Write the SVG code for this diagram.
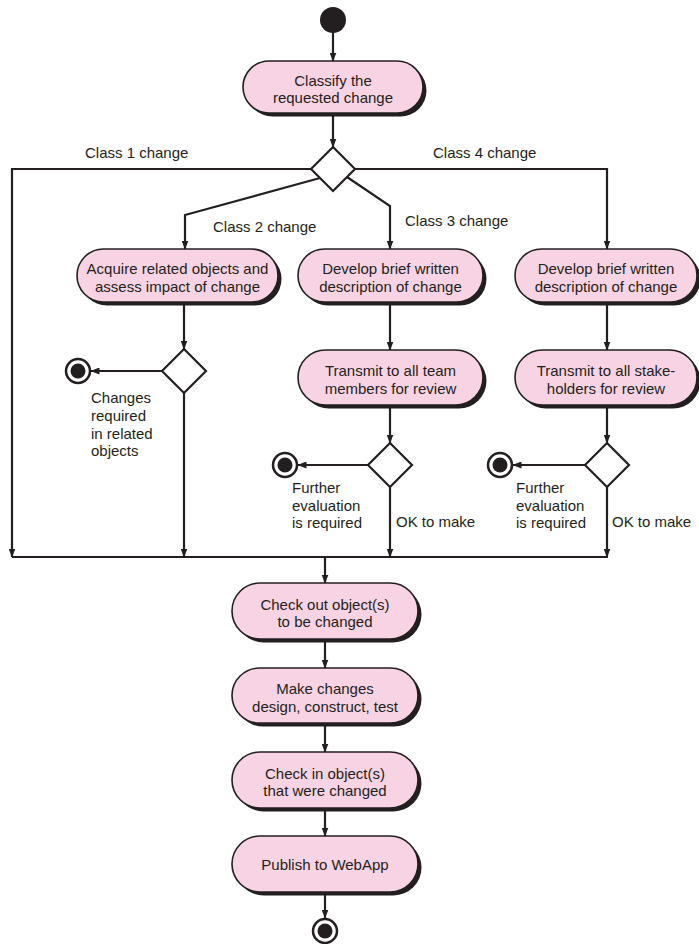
<svg xmlns="http://www.w3.org/2000/svg" width="699" height="944" viewBox="0 0 699 944">
<style>
.bg{fill:#ffffff}
.node{fill:#f8d3e4;stroke:#231f20;stroke-width:1.6}
.shadow{fill:#231f20}
.lbl{font-family:"Liberation Sans",Arial,sans-serif;font-size:15px;fill:#231f20}
.nt{font-family:"Liberation Sans",Arial,sans-serif;font-size:15px;fill:#231f20;text-anchor:middle}
.ln{fill:none;stroke:#231f20;stroke-width:2.2}
.dia{fill:#ffffff;stroke:#231f20;stroke-width:2.2}
.ring{fill:#ffffff;stroke:#231f20;stroke-width:2.5}
.dot{fill:#231f20}
</style>
<defs>
<marker id="arr" markerUnits="userSpaceOnUse" markerWidth="9" markerHeight="7" refX="8.5" refY="3.5" orient="auto">
<path d="M0,0 L9,3.5 L0,7 z" fill="#231f20"/>
</marker>
</defs>
<rect class="bg" x="0" y="0" width="699" height="944"/>

<g id="connectors">
<path class="ln" d="M333,33 L333,61" marker-end="url(#arr)"/>
<path class="ln" d="M333,113 L333,147" marker-end="url(#arr)"/>
<path class="ln" d="M311,169 L12,169 L12,557" marker-end="url(#arr)"/>
<path class="ln" d="M355,169 L607,169 L607,249" marker-end="url(#arr)"/>
<path class="ln" d="M320,178 L185,215 L185,249" marker-end="url(#arr)"/>
<path class="ln" d="M347,177 L390,206 L390,249" marker-end="url(#arr)"/>
<path class="ln" d="M184,302 L184,349" marker-end="url(#arr)"/>
<path class="ln" d="M162,371 L91,371" marker-end="url(#arr)"/>
<path class="ln" d="M184,393 L184,557" marker-end="url(#arr)"/>
<path class="ln" d="M390,302 L390,350" marker-end="url(#arr)"/>
<path class="ln" d="M390,405 L390,443" marker-end="url(#arr)"/>
<path class="ln" d="M368,465 L298,465" marker-end="url(#arr)"/>
<path class="ln" d="M390,487 L390,557" marker-end="url(#arr)"/>
<path class="ln" d="M607,302 L607,350" marker-end="url(#arr)"/>
<path class="ln" d="M607,405 L607,443" marker-end="url(#arr)"/>
<path class="ln" d="M585,465 L513,465" marker-end="url(#arr)"/>
<path class="ln" d="M607,487 L607,557" marker-end="url(#arr)"/>
<path class="ln" d="M12,557 L608,557"/>
<path class="ln" d="M325,557 L325,583" marker-end="url(#arr)"/>
<path class="ln" d="M325,639 L325,668" marker-end="url(#arr)"/>
<path class="ln" d="M325,723 L325,752" marker-end="url(#arr)"/>
<path class="ln" d="M325,808 L325,836" marker-end="url(#arr)"/>
<path class="ln" d="M325,892 L325,918" marker-end="url(#arr)"/>
<text class="lbl" x="85" y="158">Class 1 change</text>
<text class="lbl" x="433" y="158">Class 4 change</text>
<text class="lbl" x="213" y="232">Class 2 change</text>
<text class="lbl" x="405" y="226">Class 3 change</text>
<text class="lbl" x="396" y="527">OK to make</text>
<text class="lbl" x="612" y="527">OK to make</text>
</g>

<g id="start"><circle class="dot" cx="333" cy="20" r="13"/></g>

<g id="classify">
<rect class="shadow" x="246.5" y="64.5" width="180" height="52" rx="26"/>
<rect class="node" x="243" y="61" width="180" height="52" rx="26"/>
<text class="nt" x="333" y="85.5">Classify the</text>
<text class="nt" x="333" y="103">requested change</text>
</g>

<g id="decision1"><polygon class="dia" points="333,147 355,169 333,191 311,169"/></g>

<g id="acquire">
<rect class="shadow" x="80.5" y="252.5" width="201" height="53" rx="26.5"/>
<rect class="node" x="77" y="249" width="201" height="53" rx="26.5"/>
<text class="nt" x="177.5" y="274">Acquire related objects and</text>
<text class="nt" x="177.5" y="291.5">assess impact of change</text>
</g>

<g id="develop3">
<rect class="shadow" x="301.5" y="252.5" width="185" height="53" rx="26.5"/>
<rect class="node" x="298" y="249" width="185" height="53" rx="26.5"/>
<text class="nt" x="390.5" y="274">Develop brief written</text>
<text class="nt" x="390.5" y="291.5">description of change</text>
</g>

<g id="develop4">
<rect class="shadow" x="518.5" y="252.5" width="182" height="53" rx="26.5"/>
<rect class="node" x="515" y="249" width="182" height="53" rx="26.5"/>
<text class="nt" x="606" y="274">Develop brief written</text>
<text class="nt" x="606" y="291.5">description of change</text>
</g>

<g id="decision2"><polygon class="dia" points="184,349 206,371 184,393 162,371"/></g>
<g id="end2">
<circle class="ring" cx="78" cy="371" r="12"/><circle class="dot" cx="78" cy="371" r="7.5"/>
<text class="lbl" x="91" y="403">Changes</text>
<text class="lbl" x="91" y="421">required</text>
<text class="lbl" x="91" y="438.5">in related</text>
<text class="lbl" x="91" y="456">objects</text>
</g>

<g id="transmit3">
<rect class="shadow" x="301.5" y="353.5" width="185" height="55" rx="27.5"/>
<rect class="node" x="298" y="350" width="185" height="55" rx="27.5"/>
<text class="nt" x="390.5" y="376">Transmit to all team</text>
<text class="nt" x="390.5" y="393.5">members for review</text>
</g>

<g id="transmit4">
<rect class="shadow" x="518.5" y="353.5" width="182" height="55" rx="27.5"/>
<rect class="node" x="515" y="350" width="182" height="55" rx="27.5"/>
<text class="nt" x="606" y="376">Transmit to all stake-</text>
<text class="nt" x="606" y="393.5">holders for review</text>
</g>

<g id="decision3"><polygon class="dia" points="390,443 412,465 390,487 368,465"/></g>
<g id="end3">
<circle class="ring" cx="285" cy="465" r="12"/><circle class="dot" cx="285" cy="465" r="7.5"/>
<text class="lbl" x="292" y="493">Further</text>
<text class="lbl" x="292" y="511">evaluation</text>
<text class="lbl" x="292" y="528">is required</text>
</g>

<g id="decision4"><polygon class="dia" points="607,443 629,465 607,487 585,465"/></g>
<g id="end4">
<circle class="ring" cx="500" cy="465" r="12"/><circle class="dot" cx="500" cy="465" r="7.5"/>
<text class="lbl" x="516" y="493">Further</text>
<text class="lbl" x="516" y="511">evaluation</text>
<text class="lbl" x="516" y="528">is required</text>
</g>

<g id="checkout">
<rect class="shadow" x="235.5" y="586.5" width="186" height="56" rx="28"/>
<rect class="node" x="232" y="583" width="186" height="56" rx="28"/>
<text class="nt" x="325" y="609.5">Check out object(s)</text>
<text class="nt" x="325" y="627">to be changed</text>
</g>

<g id="make">
<rect class="shadow" x="235.5" y="671.5" width="186" height="55" rx="27.5"/>
<rect class="node" x="232" y="668" width="186" height="55" rx="27.5"/>
<text class="nt" x="325" y="694">Make changes</text>
<text class="nt" x="325" y="711.5">design, construct, test</text>
</g>

<g id="checkin">
<rect class="shadow" x="235.5" y="755.5" width="186" height="56" rx="28"/>
<rect class="node" x="232" y="752" width="186" height="56" rx="28"/>
<text class="nt" x="325" y="778.5">Check in object(s)</text>
<text class="nt" x="325" y="796">that were changed</text>
</g>

<g id="publish">
<rect class="shadow" x="235.5" y="839.5" width="186" height="56" rx="28"/>
<rect class="node" x="232" y="836" width="186" height="56" rx="28"/>
<text class="nt" x="325" y="869.5">Publish to WebApp</text>
</g>

<g id="end">
<circle class="ring" cx="325" cy="931" r="12"/><circle class="dot" cx="325" cy="931" r="7.5"/>
</g>
</svg>
